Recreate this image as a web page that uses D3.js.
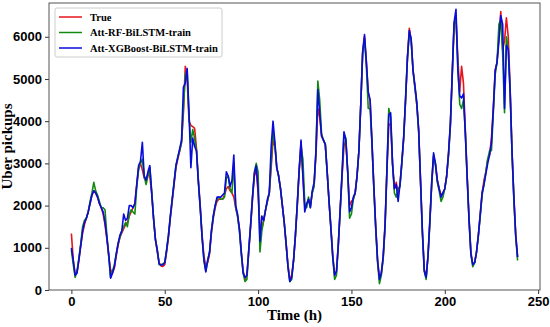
<!DOCTYPE html>
<html>
<head>
<meta charset="utf-8">
<script src="https://cdn.jsdelivr.net/npm/d3@7"></script>
<style>
  body { margin: 0; background: #fff; }
  svg { display: block; font-family: "Liberation Serif", "Times New Roman", serif; }
</style>
</head>
<body>
<svg id="chart" width="550" height="327"></svg>
<script>
// hourly Uber pickups (h = 0..239)
const trueVals = [
  1340,700,380,420,700,1050,1350,1550,1700,1850,2050,2250,2350,2300,2200,2050,1950,1800,1550,1200,
  800,480,400,520,800,1050,1250,1350,1450,1550,1600,1750,1850,1950,2050,2500,2900,3000,2850,2650,
  2600,2750,2700,2300,1700,1200,900,650,570,560,600,900,1250,1700,2100,2500,2900,3100,3300,3500,
  4200,5300,5000,4000,3900,3870,3830,3350,2600,2000,1300,800,560,650,850,1350,1700,1950,2100,2150,
  2150,2150,2250,2400,2450,2350,2300,2200,1950,1750,1450,900,450,250,350,900,1500,2150,2700,2850,
  2300,1500,1450,1650,1900,2100,2300,2900,3550,3400,2900,2700,2400,2000,1600,1100,600,250,350,700,
  1300,2000,2800,3500,2700,2000,2000,2150,2000,2300,2500,3200,4300,4100,3650,3550,3450,2800,2100,1500,
  800,350,450,1100,1900,2700,3400,3550,2800,2000,2100,2150,2300,2700,3300,4400,5600,6000,5400,4650,
  4500,3500,2450,1500,700,300,400,750,1500,2800,3900,3950,3000,2400,2550,2300,2500,3000,3600,4500,
  5500,6200,5900,5200,4800,4400,3800,2600,1400,500,300,800,1600,2500,3150,3000,2600,2400,2250,2300,
  2400,2700,3200,3900,5100,6300,6400,5500,4700,5300,4900,3800,2700,1700,900,600,650,900,1300,1800,
  2300,2600,2800,3100,3200,3600,4300,5200,5400,6000,6600,5700,5900,6450,6000,4800,3300,2200,1300,780
];
const rfVals = [
  950,600,300,450,750,1100,1500,1650,1700,1850,2100,2300,2550,2350,2250,2100,1950,1950,1900,1300,
  800,300,450,600,850,1100,1250,1400,1500,1600,1500,1800,1900,1850,1800,2450,2850,3000,3100,2700,
  2500,2700,2900,2350,1700,1200,950,600,600,620,650,950,1300,1750,2150,2550,2950,3150,3300,3500,
  4300,5100,5200,4100,3500,3800,3600,3300,2600,1950,1250,700,450,700,900,1400,1750,2000,2150,2200,
  2150,2150,2200,2650,2700,2400,2300,3000,1950,1750,1400,850,400,200,250,950,1550,2200,2800,3000,
  2800,900,1400,1650,1900,2100,2300,3000,3800,3450,2900,2700,2400,2000,1600,1100,550,200,250,700,
  1300,2050,2850,3400,3100,2050,1950,2200,1950,2300,2450,3300,4950,4500,3700,3550,3450,2800,2100,1450,
  750,250,350,1100,1900,2750,3700,3600,2800,1700,1800,2150,2300,2700,3300,4400,5600,5950,5300,4300,
  4300,3450,2400,1450,650,150,350,750,1500,2850,4300,4100,3000,2300,2200,2400,2450,3000,3600,4500,
  5500,6100,5900,5200,4800,4400,3750,2550,1350,450,250,800,1600,2550,3200,2950,2550,2350,2100,2200,
  2400,2700,3200,3900,5100,6300,6500,5300,4400,4300,4500,3750,2650,1650,850,550,650,900,1300,1750,
  2250,2500,2800,3100,3300,3300,4200,5100,5400,6300,6400,5600,4200,6000,5700,4700,3250,2150,1250,700
];
const xgbVals = [
  1000,700,350,400,720,1050,1400,1600,1700,1850,2050,2250,2350,2300,2200,2050,1950,1850,1600,1250,
  850,280,400,550,850,1100,1300,1400,1800,1650,1700,2000,2000,1950,2050,2500,2950,3050,3500,2700,
  2600,2800,2950,2300,1700,1200,950,620,590,600,650,950,1300,1750,2150,2550,2950,3150,3350,3550,
  4800,4900,5250,4200,2900,3600,3400,3300,2550,1950,1250,700,430,700,900,1400,1750,2000,2200,2200,
  2200,2250,2300,2800,2700,2450,2600,3200,2000,1800,1450,900,400,300,350,950,1550,2200,2750,2950,
  2400,1150,1750,1650,1900,2150,2300,3400,4000,3500,2900,2700,2400,2000,1600,1100,550,200,300,700,
  1300,2050,2850,3550,2700,1850,2050,2150,1950,2350,2550,3300,4750,4200,3650,3550,3450,2800,2100,1450,
  800,350,450,1100,1950,2800,3750,3550,2800,1850,1950,2200,2300,2700,3300,4400,5650,6050,5400,4700,
  4500,3500,2450,1500,700,250,400,800,1550,2850,4150,4200,3000,2400,2500,2100,2500,3050,3650,4550,
  5500,6150,5950,5200,4850,4450,3800,2600,1400,450,300,800,1650,2550,3250,3000,2600,2400,2200,2300,
  2400,2700,3250,3950,5150,6350,6650,5200,4600,4550,4650,3700,2650,1650,850,600,650,900,1300,1800,
  2300,2500,2750,3000,3200,3500,4300,5200,5400,5900,6500,6300,4300,5800,5700,4700,3300,2200,1300,780
];
const hours = d3.range(trueVals.length);

const seriesNames = ['True', 'Att-RF-BiLSTM-train', 'Att-XGBoost-BiLSTM-train'];
const seriesColors = ['#e8141c', '#128a12', '#0a0adc'];
const xTicks = [0, 50, 100, 150, 200, 250];
const yTicks = [0, 1000, 2000, 3000, 4000, 5000, 6000];

const svg = d3.select('#chart');
const plotL = 49, plotR = 540, plotT = 3, plotB = 290;

const x = d3.scaleLinear().domain([-12, 251]).range([plotL, plotR]);
const y = d3.scaleLinear().domain([0, 6800]).range([plotB, plotT]);

// axes
svg.append('g')
  .attr('transform', `translate(0,${plotB})`)
  .call(d3.axisBottom(x).tickValues(xTicks).tickFormat(d3.format('d')).tickSize(4).tickPadding(3))
  .call(g => g.select('.domain').remove())
  .selectAll('text')
  .style('font-size', '13px').style('font-weight', 'bold').attr('fill', '#000');

svg.append('g')
  .attr('transform', `translate(${plotL},0)`)
  .call(d3.axisLeft(y).tickValues(yTicks).tickFormat(d3.format('d')).tickSize(4).tickPadding(3))
  .call(g => g.select('.domain').remove())
  .selectAll('text')
  .style('font-size', '13px').style('font-weight', 'bold').attr('fill', '#000');

svg.selectAll('.tick line').attr('stroke', '#333');

// lines
const allSeries = [trueVals, rfVals, xgbVals];
const line = d3.line().x((d, i) => x(hours[i])).y(d => y(d));

svg.append('g').selectAll('path')
  .data(allSeries)
  .join('path')
  .attr('fill', 'none')
  .attr('stroke', (d, i) => seriesColors[i])
  .attr('stroke-width', 1.6)
  .attr('stroke-linejoin', 'round')
  .attr('d', line);

// frame
svg.append('rect')
  .attr('x', plotL).attr('y', plotT)
  .attr('width', plotR - plotL).attr('height', plotB - plotT)
  .attr('fill', 'none').attr('stroke', '#555').attr('stroke-width', 1);

// axis titles
svg.append('text')
  .attr('x', (plotL + plotR) / 2).attr('y', 320)
  .attr('text-anchor', 'middle')
  .style('font-size', '15px').style('font-weight', 'bold')
  .text('Time (h)');

svg.append('text')
  .attr('transform', `translate(12,${(plotT + plotB) / 2}) rotate(-90)`)
  .attr('text-anchor', 'middle')
  .style('font-size', '15px').style('font-weight', 'bold')
  .text('Uber pickups');

// legend
const legend = svg.append('g').attr('transform', 'translate(55,8)');
legend.append('rect')
  .attr('width', 167).attr('height', 49).attr('rx', 2)
  .attr('fill', '#fff').attr('stroke', '#ccc');

seriesNames.forEach((name, i) => {
  const ly = 9 + i * 15.5;
  legend.append('line')
    .attr('x1', 4).attr('x2', 27).attr('y1', ly).attr('y2', ly)
    .attr('stroke', seriesColors[i]).attr('stroke-width', 1.5);
  legend.append('text')
    .attr('x', 35).attr('y', ly + 3.5)
    .style('font-size', '10.5px').style('font-weight', 'bold')
    .text(name);
});
</script>
</body>
</html>
